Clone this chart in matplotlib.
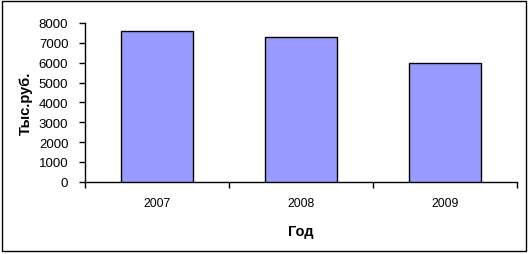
import matplotlib
matplotlib.use("Agg")
import matplotlib.pyplot as plt
from matplotlib.patches import Rectangle

years = ["2007", "2008", "2009"]
values = [7580, 7280, 5970]
yticks = [0, 1000, 2000, 3000, 4000, 5000, 6000, 7000, 8000]

plt.rcParams['font.family'] = ['Liberation Sans', 'DejaVu Sans']

W, H = 529, 255
fig = plt.figure(figsize=(W / 100, H / 100), dpi=100)
fig.patch.set_facecolor("white")

# outer chart border
fig.add_artist(Rectangle((1.5 / W, 3.5 / H), 524.5 / W, 250 / H,
                         transform=fig.transFigure, fill=False,
                         edgecolor="black", linewidth=1.0))

ax = fig.add_axes([85 / W, (H - 182.7) / H, (517 - 85) / W, (182.7 - 24) / H])
x = list(range(len(years)))
ax.bar(x, values, width=0.5, color="#9999FF", edgecolor="black", linewidth=1.0, zorder=3)

ax.set_xlim(-0.5, len(years) - 0.5)
ax.set_ylim(0, 8000)
ax.set_yticks(yticks)
ax.set_yticklabels([str(v) for v in yticks], fontsize=9.5)

ax.set_xticks([i - 0.5 for i in range(len(years) + 1)])
ax.set_xticklabels([""] * (len(years) + 1))
ax.set_xticks(x, minor=True)
ax.set_xticklabels(years, minor=True, fontsize=8.8)
ax.tick_params(axis="x", which="minor", length=0, pad=11)
ax.tick_params(axis="x", which="major", length=4, width=1, direction="out")
ax.tick_params(axis="y", length=4, width=1, direction="out", pad=8)

for s in ["top", "right"]:
    ax.spines[s].set_visible(False)
for s in ["left", "bottom"]:
    ax.spines[s].set_linewidth(1.0)
    ax.spines[s].set_color("black")

ax.set_ylabel("Тыс.руб.", fontsize=10.5, fontweight="bold", labelpad=4)
ax.set_xlabel("Год", fontsize=10.5, fontweight="bold", labelpad=11)

fig.savefig("out.png", dpi=100)
